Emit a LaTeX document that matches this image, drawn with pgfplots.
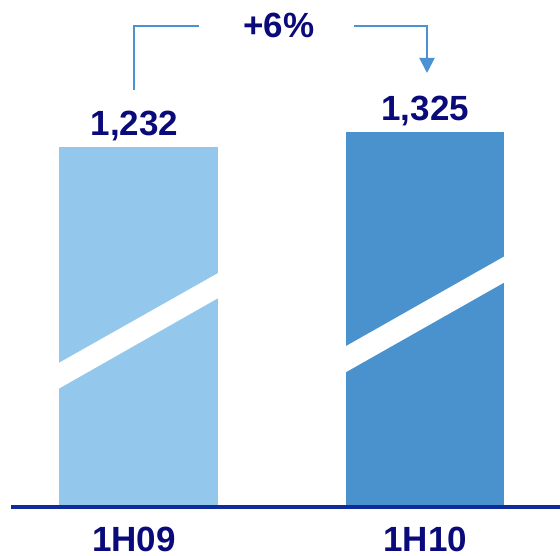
\documentclass[border=0pt]{standalone}
\usepackage{fontspec}
\setmainfont{Liberation Sans}
\usepackage{pgfplots}
\pgfplotsset{compat=1.18}
\usepackage{pgfplotstable}
\usetikzlibrary{arrows.meta}

\definecolor{barlight}{RGB}{147,200,236}
\definecolor{bardark}{RGB}{74,146,206}
\definecolor{linkblue}{RGB}{74,146,210}
\definecolor{textnavy}{RGB}{10,10,122}
\definecolor{axisnavy}{RGB}{16,44,156}

\newcommand{\bigfont}{\fontsize{35}{40}\selectfont\bfseries}

% x: category position, v: value (bars are drawn on a 1000 offset, the chart's base is cut)
\pgfplotstableread{
x v
0 1232
}\firsthalf
\pgfplotstableread{
x v
1 1325
}\secondhalf

\begin{document}
\begin{tikzpicture}
  \begin{axis}[
      at={(11pt,48.7pt)}, anchor=south west,
      scale only axis,
      width=549pt, height=507.3pt,
      xmin=-0.4442, xmax=1.470,
      ymin=0, ymax=3140,
      hide y axis,
      axis x line=bottom,
      x axis line style={-, line width=4pt, draw=axisnavy},
      axis on top,
      xtick={0,1},
      xticklabels={{\kern-9pt 1H09},1H10},
      major tick length=0pt,
      xticklabel style={anchor=base, inner sep=0pt, yshift=-44pt, font=\bigfont, text=textnavy},
      ybar, bar width=158.5pt, bar shift=0pt,
      point meta=explicit,
      nodes near coords,
      every node near coord/.append style={anchor=base, yshift=10.7pt,
        font=\bigfont, text=textnavy},
      /pgf/number format/.cd, fixed, precision=0, 1000 sep={,}, assume math mode=true,
    ]
    \addplot[draw=none, fill=barlight, bar shift=0pt,
      every node near coord/.append style={xshift=-4pt}]
      table[x=x, y expr=\thisrow{v}+1000, meta=v] {\firsthalf};
    \addplot[draw=none, fill=bardark, bar shift=0pt]
      table[x=x, y expr=\thisrow{v}+1000, meta=v] {\secondhalf};

    % white break stripes
    \fill[white] (axis cs:-0.28,732) -- (axis cs:-0.28,891)
      -- (axis cs:0.28,1452) -- (axis cs:0.28,1297) -- cycle;
    \fill[white] (axis cs:0.72,833) -- (axis cs:0.72,994)
      -- (axis cs:1.28,1557) -- (axis cs:1.28,1396) -- cycle;
  \end{axis}

  % growth bracket
  \draw[linkblue, line width=2pt] (134pt,466pt) -- (134pt,530pt) -- (199pt,530pt);
  \draw[linkblue, line width=2pt, -{Triangle[length=15pt,width=15pt]}]
    (354pt,530pt) -- (427pt,530pt) -- (427pt,483pt);
  \node[anchor=base, font=\bigfont, text=textnavy, inner sep=0pt] at (279pt,518pt) {+6\%};

  \pgfresetboundingbox
  \path[use as bounding box] (0,0) rectangle (560pt,556pt);
\end{tikzpicture}
\end{document}
